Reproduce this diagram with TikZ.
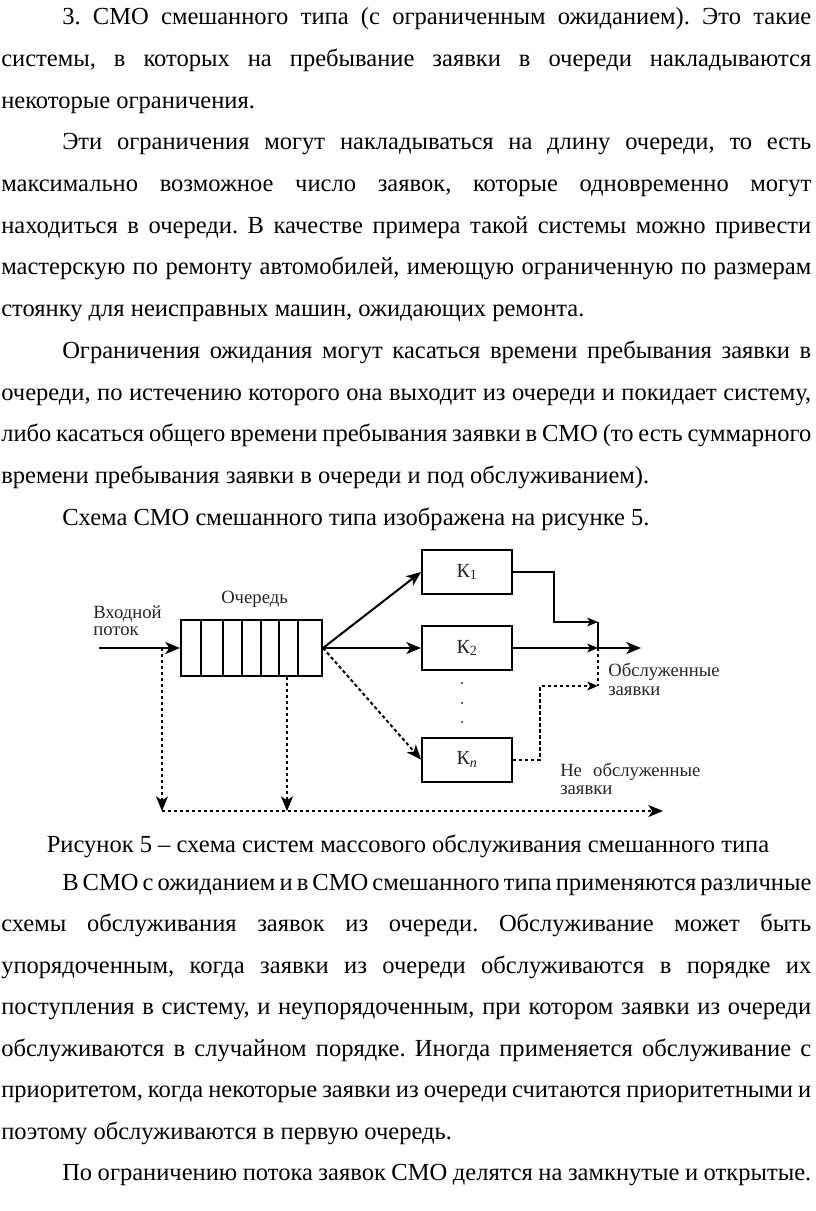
\documentclass[tikz,border=0pt]{standalone}
\usepackage{fontspec}
\setmainfont{Liberation Serif}
\usetikzlibrary{arrows.meta}
\newcommand\fullw{607.5pt}
\newcommand\indw{561.75pt}
\begin{document}
\frenchspacing
\begin{tikzpicture}[x=0.75pt,y=-0.75pt,
  txt/.style={inner sep=0pt,anchor=base west,font=\fontsize{18.4}{22}\selectfont},
  lab/.style={inner sep=0pt,anchor=base west,font=\fontsize{14}{16}\selectfont,text=black!85},
  kbox/.style={draw,line width=1.5pt,minimum width=67.5pt,minimum height=33pt,inner sep=0pt,font=\fontsize{15}{18}\selectfont,text=black!85},
  flow/.style={line width=1.5pt,-{Stealth[length=11pt,width=9pt,inset=3pt]}},
  sflow/.style={line width=1.5pt,-{Stealth[length=8pt,width=6.5pt,inset=2pt]}},
  dline/.style={line width=1.5pt,dash pattern=on 2.5pt off 2pt},
  dflow/.style={dline,-{Stealth[length=11pt,width=9pt,inset=3pt]}},
]
\useasboundingbox[fill=white] (0,0) rectangle (816,1211);

% ---------- body text ----------
\node[txt] (t1) at (62,24) {\makebox[\indw][s]{3. СМО смешанного типа (с ограниченным ожиданием). Это такие}};
\node[txt] (t2) at (1,66) {\makebox[\fullw][s]{системы, в которых на пребывание заявки в очереди накладываются}};
\node[txt] (t3) at (1,108) {некоторые ограничения.};
\node[txt] (t4) at (62,149) {\makebox[\indw][s]{Эти ограничения могут накладываться на длину очереди, то есть}};
\node[txt] (t5) at (1,191) {\makebox[\fullw][s]{максимально возможное число заявок, которые одновременно могут}};
\node[txt] (t6) at (1,233) {\makebox[\fullw][s]{находиться в очереди. В качестве примера такой системы можно привести}};
\node[txt] (t7) at (1,274) {\makebox[\fullw][s]{мастерскую по ремонту автомобилей, имеющую ограниченную по размерам}};
\node[txt] (t8) at (1,316) {стоянку для неисправных машин, ожидающих ремонта.};
\node[txt] (t9) at (62,358) {\makebox[\indw][s]{Ограничения ожидания могут касаться времени пребывания заявки в}};
\node[txt] (t10) at (1,400) {\makebox[\fullw][s]{очереди, по истечению которого она выходит из очереди и покидает систему,}};
\node[txt] (t11) at (1,441) {\makebox[\fullw][s]{либо касаться общего времени пребывания заявки в СМО (то есть суммарного}};
\node[txt] (t12) at (1,483) {времени пребывания заявки в очереди и под обслуживанием).};
\node[txt] (t13) at (62,525) {Схема СМО смешанного типа изображена на рисунке 5.};

\node[txt,anchor=base] (cap) at (408,852) {Рисунок 5 – схема систем массового обслуживания смешанного типа};

\node[txt] (t15) at (62,890) {\makebox[\indw][s]{В СМО с ожиданием и в СМО смешанного типа применяются различные}};
\node[txt] (t16) at (1,931.5) {\makebox[\fullw][s]{схемы обслуживания заявок из очереди. Обслуживание может быть}};
\node[txt] (t17) at (1,973) {\makebox[\fullw][s]{упорядоченным, когда заявки из очереди обслуживаются в порядке их}};
\node[txt] (t18) at (1,1014.5) {\makebox[\fullw][s]{поступления в систему, и неупорядоченным, при котором заявки из очереди}};
\node[txt] (t19) at (1,1056) {\makebox[\fullw][s]{обслуживаются в случайном порядке. Иногда применяется обслуживание с}};
\node[txt] (t20) at (1,1097.5) {\makebox[\fullw][s]{приоритетом, когда некоторые заявки из очереди считаются приоритетными и}};
\node[txt] (t21) at (1,1139) {поэтому обслуживаются в первую очередь.};
\node[txt] (t22) at (62,1180.5) {\makebox[\indw][s]{По ограничению потока заявок СМО делятся на замкнутые и открытые.}};

% ---------- diagram ----------
\node[draw,line width=1.3pt,minimum width=106pt,minimum height=42.5pt,inner sep=0pt] (q) at (251.5,648) {};
\foreach \xx in {201,223,242,261,279,298} \draw[line width=1.3pt] (\xx,619) -- (\xx,677);
\node[lab] (ql) at (221,603) {Очередь};
\node[lab] (in1) at (93,618) {Входной};
\node[lab] (in2) at (93,635) {поток};

\node[kbox] (K1) at (467,572) {К\textsubscript{1}};
\node[kbox] (K2) at (467,648) {К\textsubscript{2}};
\node[kbox] (Kn) at (467,759.5) {К\textsubscript{\textit{n}}};
\foreach \yy in {683,703,722} \fill[black!80] (462,\yy) circle (0.9pt);

\coordinate (src) at (99,648);
\coordinate (a1) at (162,648);
\coordinate (a2) at (287,677);
\coordinate (b1) at (162,811);
\coordinate (b2) at (287,811);
\coordinate (bend) at (663,811);
\coordinate (mtop) at (598,622);
\coordinate (m) at (598,648);
\coordinate (mbot) at (598,686);
\coordinate (out) at (641,648);

\draw[flow] (src) -- (q.west);
\draw[flow] (q.east) -- (K1.west);
\draw[flow] (q.east) -- (K2.west);
\draw[dflow] (q.east) -- (Kn.west);

\draw[sflow] (K1.east) -| ([xshift=-33pt]mtop) -- (mtop);
\draw[sflow] (K2.east) -- (m);
\draw[line width=1.5pt] (mtop) -- (m);
\draw[dline] (m) -- (mbot);
\draw[flow] (m) -- (out);
\draw[dline,-{Stealth[length=8pt,width=6.5pt,inset=2pt]}] (Kn.east) -| ([xshift=-43.5pt]mbot) -- (mbot);

\draw[dflow] (a1) -- (b1);
\draw[dflow] (a2) -- (b2);
\draw[dflow] (b1) -- (bend);

\node[lab] (s1) at (608,676) {Обслуженные};
\node[lab] (s2) at (608,695) {заявки};
\node[lab] (u1) at (560,776) {Не\hspace{0.6em}обслуженные};
\node[lab] (u2) at (560,794) {заявки};
\end{tikzpicture}
\end{document}
